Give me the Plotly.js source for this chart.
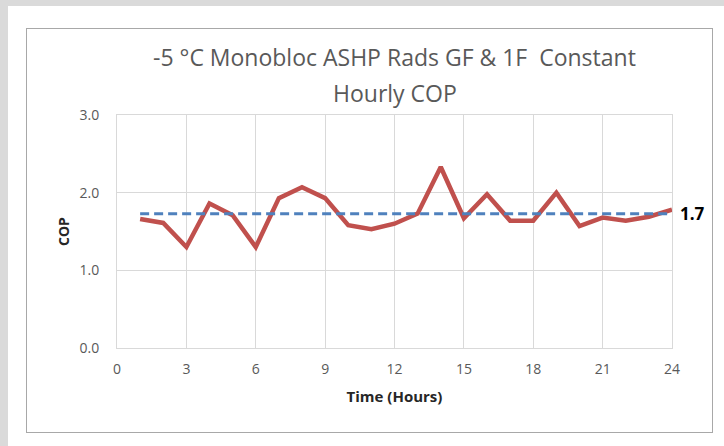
<!DOCTYPE html>
<html>
<head>
<meta charset="utf-8">
<script src="https://cdn.plot.ly/plotly-3.0.1.min.js"></script>
<style>
  html, body { margin: 0; padding: 0; }
  body { width: 724px; height: 446px; background: #dadada; position: relative; overflow: hidden; }
  #panel { position: absolute; left: 8px; top: 6px; width: 716px; height: 440px; background: #ffffff; }
  #frame { position: absolute; left: 26px; top: 28px; width: 685px; height: 403px; border: 1px solid #a8a8a8; background: #ffffff; }
  #chart { position: absolute; left: 0; top: 0; width: 724px; height: 446px; }
</style>
</head>
<body>
<div id="panel"></div>
<div id="frame"></div>
<div id="chart"></div>
<script>
// Data
const hours = [1, 2, 3, 4, 5, 6, 7, 8, 9, 10, 11, 12, 13, 14, 15, 16, 17, 18, 19, 20, 21, 22, 23, 24];
const hourlyCOP = [1.66, 1.61, 1.30, 1.86, 1.71, 1.30, 1.93, 2.07, 1.93, 1.58, 1.53, 1.60,
                   1.73, 2.33, 1.67, 1.98, 1.64, 1.64, 2.00, 1.57, 1.68, 1.64, 1.69, 1.78];
const averageHours = [1, 24];
const averageCOP = [1.73, 1.73];
const averageLabel = "1.7";
const xTicks = [0, 3, 6, 9, 12, 15, 18, 21, 24];
const yTicks = [0, 1, 2, 3];
const yTickLabels = ["0.0", "1.0", "2.0", "3.0"];
const titleLines = ["-5 °C Monobloc ASHP Rads GF &amp; 1F  Constant", "Hourly COP"];

const FONT = '"Open Sans", "Noto Sans", sans-serif';

const traces = [
  {
    x: hours, y: hourlyCOP, type: 'scatter', mode: 'lines',
    line: { color: '#c0504d', width: 4.5 }, hoverinfo: 'skip'
  },
  {
    x: averageHours, y: averageCOP, type: 'scatter', mode: 'lines',
    line: { color: '#4f81bd', width: 3, dash: '9px,5px' }, hoverinfo: 'skip'
  }
];

const titleFont = { family: FONT, size: 23, color: '#595959' };

const layout = {
  width: 724, height: 446,
  paper_bgcolor: 'rgba(0,0,0,0)',
  plot_bgcolor: 'rgba(0,0,0,0)',
  showlegend: false,
  margin: { l: 117, r: 52, t: 115, b: 98 },
  font: { family: FONT, color: '#595959', size: 14 },
  xaxis: {
    range: [0, 24],
    tickvals: xTicks,
    ticktext: xTicks.map(String),
    showgrid: true, gridcolor: '#d9d9d9', gridwidth: 1,
    zeroline: false,
    showline: true, linecolor: '#d9d9d9', linewidth: 1, mirror: true,
    ticks: '', ticklabelstandoff: 8,
    tickfont: { family: FONT, size: 14, color: '#595959' },
    title: { text: '<b>Time (Hours)</b>', font: { family: FONT, size: 15, color: '#262626' }, standoff: 14 }
  },
  yaxis: {
    range: [0, 3],
    tickvals: yTicks,
    ticktext: yTickLabels,
    showgrid: true, gridcolor: '#d9d9d9', gridwidth: 1,
    zeroline: false,
    showline: true, linecolor: '#d9d9d9', linewidth: 1, mirror: true,
    ticks: '', ticklabelstandoff: 14,
    tickfont: { family: FONT, size: 14, color: '#595959' },
    title: { text: '<b>COP</b>', font: { family: FONT, size: 14, color: '#262626' }, standoff: 6 }
  },
  annotations: [
    {
      x: 0.5, y: 1.249, xref: 'paper', yref: 'paper',
      text: titleLines[0], showarrow: false,
      xanchor: 'center', yanchor: 'middle', font: titleFont
    },
    {
      x: 0.5, y: 1.094, xref: 'paper', yref: 'paper',
      text: titleLines[1], showarrow: false,
      xanchor: 'center', yanchor: 'middle', font: titleFont
    },
    {
      x: averageHours[1], y: averageCOP[1], xref: 'x', yref: 'y',
      text: '<b>' + averageLabel + '</b>', showarrow: false,
      xanchor: 'left', yanchor: 'middle', xshift: 6,
      font: { family: FONT, size: 17, color: '#000000' }
    }
  ]
};

Plotly.newPlot('chart', traces, layout, { displayModeBar: false, staticPlot: true });
</script>
</body>
</html>
